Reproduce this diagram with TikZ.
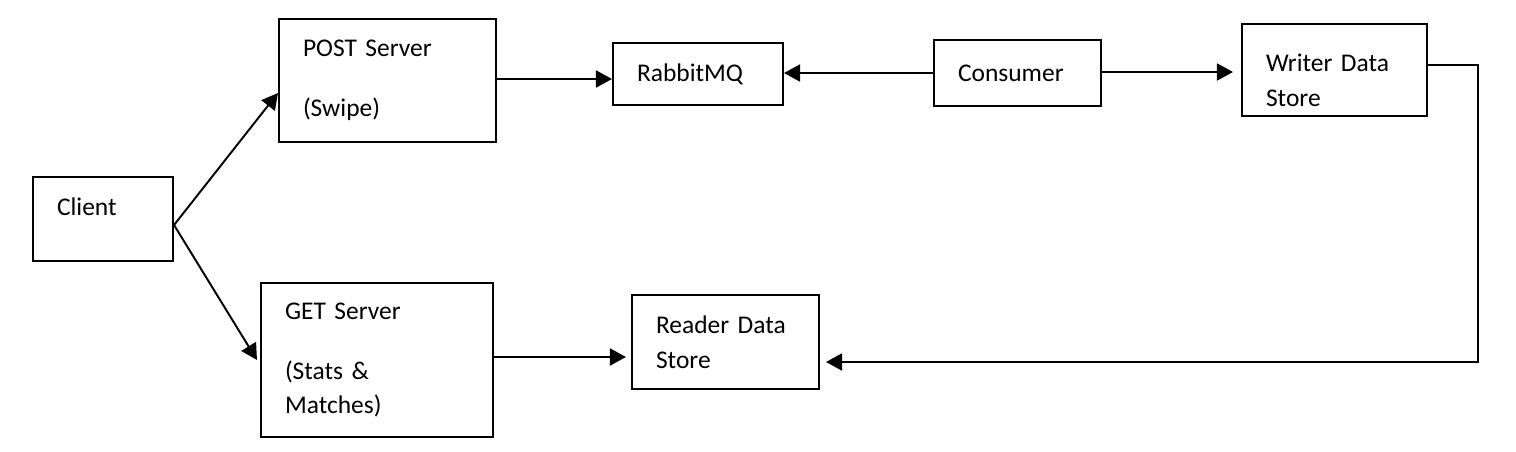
\documentclass[tikz,border=0pt]{standalone}
\usepackage{fontspec}
\setmainfont{Carlito}[WordSpace=0.7]
\usepackage{tikz}
\usetikzlibrary{arrows.meta, positioning, calc}
\tikzstyle{block} = [rectangle, draw=black, line width=1.2pt, inner xsep=0.48cm, align=left, font=\fontsize{14.5pt}{19.9pt}\selectfont]
\tikzstyle{arrow} = [line width=1.1pt, -{Triangle[length=0.32cm, width=0.34cm]}]

\begin{document}
\begin{tikzpicture}[x=0.02cm, y=-0.02cm]

	\useasboundingbox (0,0) rectangle (1516,451);

	% left side
	\node (client)[block, text width=1.84cm, minimum height=1.68cm, text depth=0.51cm] at (103,219) {Client};
	\node (postServer)[block, text width=3.38cm, minimum height=2.46cm] at (387.5,80.5) {\mbox{POST Server} \\[0.5cm] (Swipe)};
	\node (getServer)[block, text width=3.68cm, minimum height=3.08cm] at (377,360) {\mbox{GET Server} \\[0.5cm] \mbox{(Stats \&} \\ Matches)};

	% queue and stores
	\node (rabbitMQ)[block, text width=2.44cm, minimum height=1.24cm] at (698,74) {RabbitMQ};
	\node (consumer)[block, text width=2.38cm, minimum height=1.32cm] at (1017.5,73) {Consumer};
	\node (writerStore)[block, text width=2.74cm, minimum height=1.84cm, text height=0.78cm] at (1334.5,70) {\mbox{Writer Data} \\ Store};
	\node (readerStore)[block, text width=2.78cm, minimum height=1.88cm] at (725.5,342) {\mbox{Reader Data} \\ Store};

	% 拐弯用
	\coordinate (bend) at (1478,362);

	% lines and arrows
	\draw[arrow] ([yshift=-0.12cm]client.east) -- ([yshift=-0.25cm]postServer.west);
	\draw[arrow] ([yshift=-0.12cm]client.east) -- ([xshift=-0.06cm]getServer.west);
	\draw[arrow] ([yshift=0.03cm]postServer.east) -- ([yshift=0.03cm]postServer.east -| rabbitMQ.west);
	\draw[arrow] (consumer.west) -- (consumer.west -| rabbitMQ.east);
	\draw[arrow, shorten >=0.16cm] ([yshift=0.02cm]consumer.east) -- ([yshift=0.02cm]consumer.east -| writerStore.west);
	\draw[arrow, shorten >=0.12cm] ([yshift=0.1cm]writerStore.east) -| (bend) -- (bend -| readerStore.east);
	\draw[arrow, shorten >=0.1cm] ([yshift=0.06cm]getServer.east) -- ([yshift=0.06cm]getServer.east -| readerStore.west);

\end{tikzpicture}
\end{document}
